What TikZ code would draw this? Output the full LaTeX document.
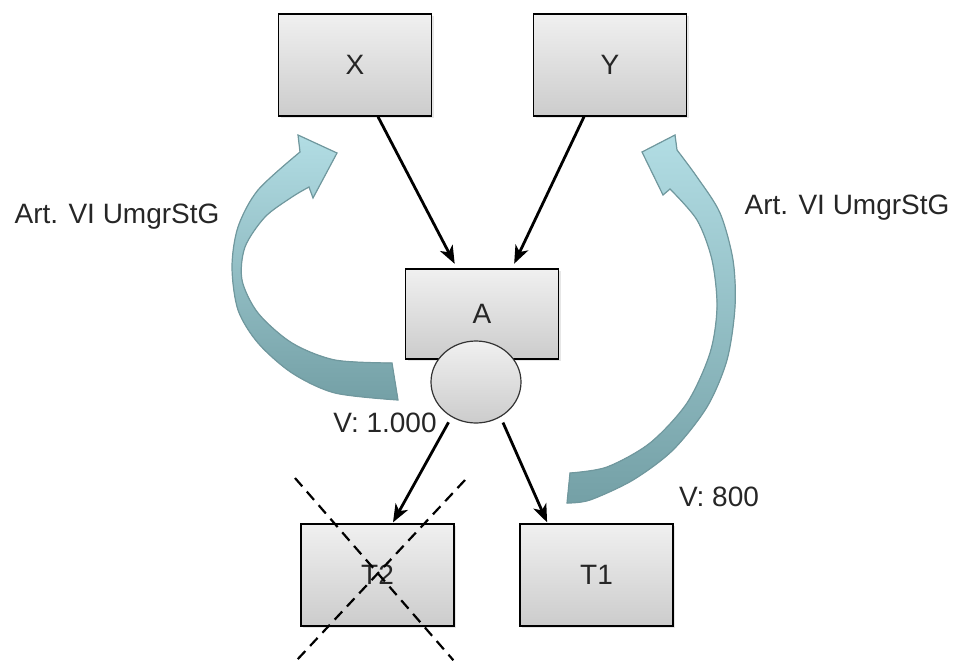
\documentclass[tikz,border=0pt]{standalone}
\usepackage{fontspec}
\setmainfont{Liberation Sans}
\usetikzlibrary{arrows.meta,positioning,shapes,shadows}

\definecolor{boxtop}{RGB}{240,240,240}
\definecolor{boxbot}{RGB}{204,204,204}
\definecolor{bendtop}{RGB}{178,221,228}
\definecolor{bendbot}{RGB}{116,160,166}
\definecolor{bendline}{RGB}{112,152,158}

\begin{document}
\begin{tikzpicture}[x=1pt,y=-1pt,-{Stealth[length=18pt,width=14pt,inset=5pt]},shorten >=1pt,
	                    line width=2.8pt,node distance=255pt,font=\fontsize{28}{32}\selectfont,
	                    text=black!85]
	  \tikzstyle{box}=[rectangle,draw=black,line width=1.5pt,minimum width=153pt,minimum height=102pt,
	                   top color=boxtop,bottom color=boxbot,
	                   drop shadow={opacity=0.2,shadow xshift=2pt,shadow yshift=-2pt}]
	  \tikzstyle{knob}=[ellipse,draw=black!80,line width=1.2pt,minimum width=90pt,minimum height=82pt,
	                    inner sep=0pt,top color=boxtop,bottom color=boxbot]
	  \tikzstyle{blockarrow}=[-,draw=bendline,line width=1.2pt,top color=bendtop,bottom color=bendbot]

	  \useasboundingbox (0,0) rectangle (957,661);

	  % curved block arrows
	  \filldraw[blockarrow] plot[smooth] coordinates {(398,400) (335,393) (292,373) (258,343) (238,310)
	                    (232,267) (238,227) (258,190) (300,152)}
	        -- (298,135) -- (337,153) -- (313,198) -- (309,187)
	        -- plot[smooth] coordinates {(309,187) (292,197) (265,217) (245,247) (242,280)
	                    (258,313) (292,343) (335,360) (392,363)} -- cycle;
	  \filldraw[blockarrow] plot[smooth] coordinates {(567,503) (590,500) (633,480) (673,450) (707,407)
	                    (727,360) (735,307) (733,260) (720,213) (697,177) (677,150)}
	        -- (675,135) -- (642,152) -- (663,195) -- (670,189)
	        -- plot[smooth] coordinates {(670,189) (697,220) (712,260) (717,307) (710,353)
	                    (687,403) (650,443) (607,467) (570,473)} -- cycle;

	  \node[box]                      (X)  at (355,65)    {X};
	  \node[box]                      (Y)  [right of=X]   {Y};
	  \node[box,minimum height=90pt]  (A)  at (482,314)   {A};
	  \node[knob]                     (K)  at (476,382)   {};
	  \node[box]                      (T2) at (377.5,575) {T2};
	  \node[box]                      (T1) [right of=T2,node distance=219pt] {T1};

	  \node (artl) at (117,217) {Art. VI UmgrStG};
	  \node (artr) at (847,208) {Art. VI UmgrStG};
	  \node (vl)   at (385,423) {V: 1.000};
	  \node (vr)   at (719,497) {V: 800};

	  \draw[shorten >=5pt] ([xshift=23pt]X.south) -- ([xshift=-25pt]A.north);
	  \draw[shorten >=5pt] ([xshift=-26pt]Y.south) -- ([xshift=30pt]A.north);
	  \draw[shorten <=6pt] (K.235) -- ([xshift=15pt]T2.north);
	  \draw[shorten <=6pt] (K.305) -- ([xshift=-49pt]T1.north);

	  % T2 struck out
	  \draw[-,line width=2.2pt,dash pattern=on 11pt off 7pt]
	        ([shift={(-82.5,-97)}]T2.center) -- ([shift={(76.5,86)}]T2.center);
	  \draw[-,line width=2.2pt,dash pattern=on 11pt off 7pt]
	        ([shift={(87.5,-95)}]T2.center) -- ([shift={(-81.5,86)}]T2.center);
	\end{tikzpicture}
\end{document}
